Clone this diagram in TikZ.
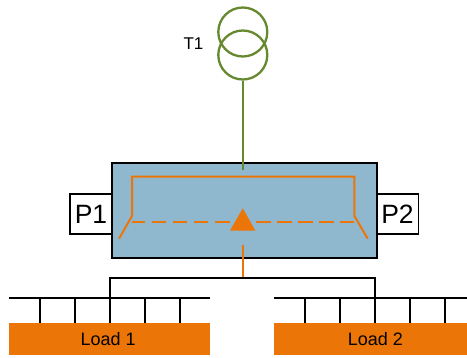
\documentclass[tikz,border=0pt]{standalone}
\usepackage{fontspec}
\setmainfont{Liberation Sans}
\definecolor{swblue}{HTML}{8FB8CE}
\definecolor{sworange}{HTML}{EC7508}
\definecolor{swgreen}{HTML}{66892F}
\tikzset{
  x=1pt,y=-1pt,
  green line/.style={draw=swgreen,line width=2.3pt},
  orange line/.style={draw=sworange,line width=2pt},
  black line/.style={draw=black,line width=2pt},
  port/.style={draw=black,fill=white,line width=1.6pt,inner sep=0pt,minimum width=42pt,minimum height=40.5pt,font=\fontsize{26.5}{26.5}\selectfont},
  loadbox/.style={fill=sworange,inner sep=0pt,minimum height=32.5pt,font=\fontsize{18}{18}\selectfont},
  winding/.style={circle,green line,inner sep=0pt,minimum size=49pt},
  dashes/.style={orange line,dash pattern=on 14.5pt off 6.6pt}
}
\begin{document}
\begin{tikzpicture}
\useasboundingbox (0,0) rectangle (467,357);
% switchboard
\node[port] (p1) at (91,214) {P1};
\node[port] (p2) at (397.5,214) {P2};
\node[draw=black,fill=swblue,line width=2.2pt,inner sep=0pt,minimum width=265pt,minimum height=95.6pt] (board) at (244.3,210.5) {};
% transformer
\node[winding] (w1) at (242.8,32) {};
\node[winding] (w2) at (242.8,55) {};
\node (t1) at (193.5,43.5) {\fontsize{17}{17}\selectfont T1};
\draw[green line] (w2.south) -- (242.8,170);
% internal busbar
\coordinate (la) at (132,216);
\coordinate (ra) at (354.4,216);
\coordinate (lb) at (119,238.7);
\coordinate (rb) at (367.7,238.7);
\coordinate (lc) at (132,222);
\coordinate (rc) at (354.4,222);
\draw[orange line] (lb) -- (la) -- (132,176.5) -- (354.4,176.5) -- (ra) -- (rb);
\fill[sworange] (242.8,208.3) -- (255.3,230.5) -- (230,230.5) -- cycle;
\coordinate (dl) at (229.5,222);
\coordinate (dr) at (256,222);
\draw[dashes] (dl) -- (lc);
\draw[dashes] (dr) -- (rc);
% output
\coordinate (s1) at (242.8,245);
\coordinate (s2) at (242.8,277.5);
\draw[orange line] (s1) -- (s2);
% loads
\node[loadbox,minimum width=200.5pt] (l1) at (109.3,339) {Load 1\hspace*{2.4pt}};
\node[loadbox,minimum width=193pt] (l2) at (370.8,339) {\hspace*{9.4pt}Load 2};
\coordinate (b1l) at (9,297.5);
\coordinate (b1r) at (209.5,297.5);
\coordinate (b2l) at (274.3,297.5);
\coordinate (b2r) at (467,297.5);
\draw[black line] (b1l) -- (b1r);
\draw[black line] (b2l) -- (b2r);
\foreach \x in {40.3,75,109.5,145,179.5,305.3,340,375,410,444.7}
  \draw[black line] (\x,297.5) -- (\x,322.7);
\coordinate (f1) at (109.5,297.5);
\coordinate (f2) at (375,297.5);
\draw[black line] (f1) -- (109.5,277.7) -- (375,277.7) -- (f2);
\end{tikzpicture}
\end{document}
